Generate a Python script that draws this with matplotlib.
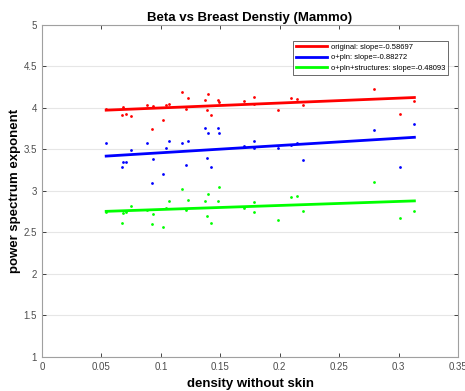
import numpy as np
import matplotlib
matplotlib.use("Agg")
import matplotlib.pyplot as plt

plt.rcParams['font.family'] = ['Liberation Sans', 'DejaVu Sans']

density = [0.054, 0.0684, 0.0673, 0.0704, 0.0746, 0.0886, 0.0937, 0.0928, 0.1018, 0.104,
           0.1066, 0.1175, 0.1209, 0.1226, 0.1374, 0.140, 0.1388, 0.1422, 0.1481, 0.1487,
           0.170, 0.1786, 0.1786, 0.1988, 0.2092, 0.2145, 0.2198, 0.2793, 0.3015, 0.3133]
original = [3.99, 4.01, 3.91, 3.92, 3.90, 4.03, 4.02, 3.74, 3.85, 4.03,
            4.05, 4.19, 3.99, 4.12, 4.09, 4.16, 3.97, 3.91, 4.09, 4.07,
            4.08, 4.13, 4.05, 3.97, 4.12, 4.11, 4.03, 4.23, 3.92, 4.08]
o_pln = [3.57, 3.35, 3.28, 3.35, 3.49, 3.57, 3.38, 3.09, 3.20, 3.51,
         3.60, 3.57, 3.31, 3.60, 3.75, 3.70, 3.39, 3.29, 3.76, 3.70,
         3.54, 3.60, 3.52, 3.52, 3.55, 3.57, 3.37, 3.73, 3.28, 3.81]
o_pln_struct = [2.74, 2.73, 2.61, 2.74, 2.82, 2.77, 2.72, 2.60, 2.56, 2.79,
                2.88, 3.02, 2.77, 2.89, 2.88, 2.96, 2.69, 2.61, 2.88, 3.04,
                2.79, 2.87, 2.74, 2.65, 2.92, 2.94, 2.75, 3.11, 2.67, 2.76]
labels = ["original: slope=-0.58697", "o+pln: slope=-0.88272",
          "o+pln+structures: slope=-0.48093"]
colors = ["#ff0000", "#0000ff", "#00ff00"]

fig = plt.figure(figsize=(4.65, 3.91), dpi=100)
ax = fig.add_axes([0.0903, 0.0877, 0.8947, 0.849])

x = np.array(density)
xfit = np.array([x.min(), x.max()])
handles = []
for ys, c, lab in zip([original, o_pln, o_pln_struct], colors, labels):
    ax.plot(x, ys, 'o', color=c, markersize=2.0, markeredgewidth=0, zorder=3)
    p = np.polyfit(x, ys, 1)
    h, = ax.plot(xfit, np.polyval(p, xfit), '-', color=c, lw=2.0, label=lab, zorder=4)
    handles.append(h)

ax.set_xlim(0, 0.35)
ax.set_ylim(1, 5)
ax.set_xticks(np.arange(0, 0.351, 0.05))
ax.set_xticklabels(["0", "0.05", "0.1", "0.15", "0.2", "0.25", "0.3", "0.35"])
ax.set_yticks(np.arange(1, 5.01, 0.5))
ax.set_yticklabels(["1", "1.5", "2", "2.5", "3", "3.5", "4", "4.5", "5"])
ax.yaxis.grid(True, color="#e6e6e6", lw=0.8)
ax.set_axisbelow(True)
ax.tick_params(direction="in", length=3, width=0.6, colors="#262626", labelsize=7,
               top=True, right=True, labelcolor="#4d4d4d")
for s in ax.spines.values():
    s.set_color("#a0a0a0")
    s.set_linewidth(0.8)

ax.set_title("Beta vs Breast Denstiy (Mammo)", fontsize=9.5, fontweight="bold", pad=3)
ax.set_xlabel("density without skin", fontsize=9.5, fontweight="bold", labelpad=4.5)
ax.set_ylabel("power spectrum exponent", fontsize=9.5, fontweight="bold", labelpad=2)

leg = ax.legend(handles=handles, loc="upper right", fontsize=5.5, frameon=True,
                fancybox=False, edgecolor="#262626", handlelength=4.0,
                borderpad=0.4, labelspacing=0.4, handletextpad=0.5,
                bbox_to_anchor=(0.9856, 0.964))
leg.get_frame().set_linewidth(0.6)

fig.savefig("out.png", dpi=100)
